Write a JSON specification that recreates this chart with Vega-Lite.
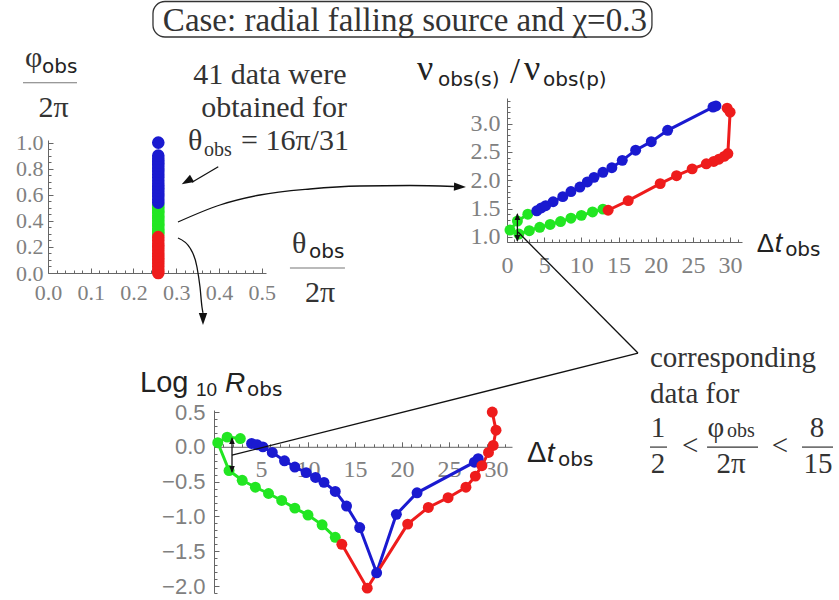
{
  "$schema": "https://vega.github.io/schema/vega-lite/v6.json",
  "width": 839,
  "height": 600,
  "autosize": {"type": "none"},
  "padding": 0,
  "background": "white",
  "config": {
    "view": {"stroke": null},
    "axis": {"grid": false, "domainColor": "#666666", "tickColor": "#666666", "labelColor": "#808080", "labelOverlap": false}
  },
  "datasets": {
    "pts": [
      {"grp": "green", "phi": 0.30, "theta": 0.258, "dt": 12.9, "nu": 1.49, "logR": -1.30},
      {"grp": "green", "phi": 0.32, "theta": 0.258, "dt": 11.5, "nu": 1.44, "logR": -1.12},
      {"grp": "green", "phi": 0.34, "theta": 0.258, "dt": 10.0, "nu": 1.38, "logR": -0.98},
      {"grp": "green", "phi": 0.36, "theta": 0.258, "dt": 8.6, "nu": 1.33, "logR": -0.88},
      {"grp": "green", "phi": 0.38, "theta": 0.258, "dt": 7.2, "nu": 1.27, "logR": -0.77},
      {"grp": "green", "phi": 0.40, "theta": 0.258, "dt": 5.8, "nu": 1.22, "logR": -0.67},
      {"grp": "green", "phi": 0.42, "theta": 0.258, "dt": 4.4, "nu": 1.17, "logR": -0.58},
      {"grp": "green", "phi": 0.44, "theta": 0.258, "dt": 3.0, "nu": 1.11, "logR": -0.48},
      {"grp": "green", "phi": 0.46, "theta": 0.258, "dt": 1.6, "nu": 1.05, "logR": -0.34},
      {"grp": "green", "phi": 0.48, "theta": 0.258, "dt": 0.4, "nu": 1.12, "logR": 0.06},
      {"grp": "green", "phi": 0.50, "theta": 0.258, "dt": 1.4, "nu": 1.28, "logR": 0.14},
      {"grp": "green", "phi": 0.52, "theta": 0.258, "dt": 2.8, "nu": 1.40, "logR": 0.12},
      {"grp": "blue", "phi": 0.540, "theta": 0.258, "dt": 4.0, "nu": 1.46, "logR": 0.05},
      {"grp": "blue", "phi": 0.564, "theta": 0.258, "dt": 4.6, "nu": 1.51, "logR": 0.03},
      {"grp": "blue", "phi": 0.588, "theta": 0.258, "dt": 5.2, "nu": 1.55, "logR": 0.0},
      {"grp": "blue", "phi": 0.612, "theta": 0.258, "dt": 6.2, "nu": 1.62, "logR": -0.08},
      {"grp": "blue", "phi": 0.636, "theta": 0.258, "dt": 7.5, "nu": 1.71, "logR": -0.20},
      {"grp": "blue", "phi": 0.660, "theta": 0.258, "dt": 8.6, "nu": 1.80, "logR": -0.29},
      {"grp": "blue", "phi": 0.684, "theta": 0.258, "dt": 9.8, "nu": 1.88, "logR": -0.37},
      {"grp": "blue", "phi": 0.708, "theta": 0.258, "dt": 10.8, "nu": 1.97, "logR": -0.44},
      {"grp": "blue", "phi": 0.732, "theta": 0.258, "dt": 11.7, "nu": 2.05, "logR": -0.51},
      {"grp": "blue", "phi": 0.756, "theta": 0.258, "dt": 12.9, "nu": 2.14, "logR": -0.64},
      {"grp": "blue", "phi": 0.780, "theta": 0.258, "dt": 14.1, "nu": 2.22, "logR": -0.85},
      {"grp": "blue", "phi": 0.804, "theta": 0.258, "dt": 15.5, "nu": 2.35, "logR": -1.16},
      {"grp": "blue", "phi": 0.828, "theta": 0.258, "dt": 17.3, "nu": 2.53, "logR": -1.81},
      {"grp": "blue", "phi": 0.852, "theta": 0.258, "dt": 19.4, "nu": 2.68, "logR": -0.97},
      {"grp": "blue", "phi": 0.876, "theta": 0.258, "dt": 21.6, "nu": 2.88, "logR": -0.66},
      {"grp": "blue", "phi": 0.900, "theta": 0.258, "dt": 27.7, "nu": 3.29, "logR": -0.22},
      {"grp": "blue", "phi": 1.000, "theta": 0.258, "dt": 28.1, "nu": 3.31, "logR": -0.17},
      {"grp": "red", "phi": 0.000, "theta": 0.258, "dt": 29.6, "nu": 3.27, "logR": 0.50},
      {"grp": "red", "phi": 0.025, "theta": 0.258, "dt": 30.0, "nu": 3.20, "logR": 0.24},
      {"grp": "red", "phi": 0.050, "theta": 0.258, "dt": 29.7, "nu": 2.47, "logR": 0.02},
      {"grp": "red", "phi": 0.075, "theta": 0.258, "dt": 29.2, "nu": 2.42, "logR": -0.08},
      {"grp": "red", "phi": 0.100, "theta": 0.258, "dt": 28.5, "nu": 2.37, "logR": -0.27},
      {"grp": "red", "phi": 0.125, "theta": 0.258, "dt": 27.8, "nu": 2.33, "logR": -0.42},
      {"grp": "red", "phi": 0.150, "theta": 0.258, "dt": 26.8, "nu": 2.29, "logR": -0.58},
      {"grp": "red", "phi": 0.175, "theta": 0.258, "dt": 24.9, "nu": 2.20, "logR": -0.73},
      {"grp": "red", "phi": 0.200, "theta": 0.258, "dt": 22.8, "nu": 2.08, "logR": -0.87},
      {"grp": "red", "phi": 0.225, "theta": 0.258, "dt": 20.6, "nu": 1.94, "logR": -1.11},
      {"grp": "red", "phi": 0.250, "theta": 0.258, "dt": 16.3, "nu": 1.64, "logR": -2.03},
      {"grp": "red", "phi": 0.275, "theta": 0.258, "dt": 13.6, "nu": 1.47, "logR": -1.40}
    ]
  },
  "resolve": {"scale": {"x": "independent", "y": "independent"}, "axis": {"x": "independent", "y": "independent"}},
  "layer": [
    {
      "resolve": {"scale": {"x": "independent", "y": "independent"}, "axis": {"x": "independent", "y": "independent"}},
      "layer": [
        {
          "layer": [
            {
              "data": {"name": "pts"},
              "mark": {"type": "circle", "size": 160, "opacity": 1},
              "encoding": {
                "x": {"field": "theta", "type": "quantitative", "scale": {"domain": [0, 0.51], "range": [48, 266], "nice": false, "zero": false},
                  "axis": {"title": null, "orient": "bottom", "offset": -327, "values": [0, 0.1, 0.2, 0.3, 0.4, 0.5], "format": ".1f", "tickSize": -5,
                    "labelOverlap": false, "labelFlush": false, "labelBound": false,
                    "labelPadding": 14, "labelFont": "Liberation Sans Narrow", "labelFontSize": 22}},
                "y": {"field": "phi", "type": "quantitative", "scale": {"domain": [0, 1.02], "range": [273, 140], "nice": false, "zero": false},
                  "axis": {"title": null, "orient": "left", "offset": -48, "values": [0, 0.2, 0.4, 0.6, 0.8, 1.0], "format": ".1f", "tickSize": -5,
                    "labelOverlap": false, "labelFlush": false, "labelBound": false,
                    "labelPadding": 10, "labelFont": "Liberation Sans Narrow", "labelFontSize": 22}},
                "color": {"field": "grp", "type": "nominal", "scale": {"domain": ["red", "green", "blue"], "range": ["#ee1c1c", "#22e622", "#1a1ad0"]}, "legend": null}
              }
            },
            {
              "data": {"values": [{"x": 0.835, "y": 1.856, "t": "Case: radial falling source and χ=0.3"}]},
              "mark": {"type": "text", "font": "Liberation Serif", "fontSize": 33, "align": "center", "baseline": "alphabetic", "color": "#333333"},
              "encoding": {"x": {"field": "x", "type": "quantitative"}, "y": {"field": "y", "type": "quantitative"}, "text": {"field": "t"}}
            },
            {
              "data": {"values": [{"x": 0.2456, "x2": 1.4129, "y": 2.082, "y2": 1.81}]},
              "mark": {"type": "rect", "filled": false, "stroke": "#333333", "strokeWidth": 1.3, "cornerRadius": 12},
              "encoding": {"x": {"field": "x", "type": "quantitative"}, "x2": {"field": "x2"}, "y": {"field": "y", "type": "quantitative"}, "y2": {"field": "y2"}}
            },
            {
              "data": {"values": [
                {"x": 0.0129, "y": 1.196, "t": "2π"},
                {"x": 0.519, "y": 1.449, "t": "41 data were"},
                {"x": 0.529, "y": 1.196, "t": "obtained for"},
                {"x": 0.6363, "y": -0.2224, "t": "2π"}
              ]},
              "mark": {"type": "text", "font": "Liberation Serif", "fontSize": 30, "align": "center", "baseline": "alphabetic", "color": "#333333"},
              "encoding": {"x": {"field": "x", "type": "quantitative"}, "y": {"field": "y", "type": "quantitative"}, "text": {"field": "t"}}
            },
            {
              "data": {"values": [
                {"x": 0.3275, "y": 0.943, "t": "θ"},
                {"x": 0.4515, "y": 0.943, "t": "= 16π/31"},
                {"x": 0.5708, "y": 0.1534, "t": "θ"},
                {"x": -0.0538, "y": 1.58, "t": "φ"}
              ]},
              "mark": {"type": "text", "font": "Liberation Serif", "fontSize": 30, "align": "left", "baseline": "alphabetic", "color": "#333333"},
              "encoding": {"x": {"field": "x", "type": "quantitative"}, "y": {"field": "y", "type": "quantitative"}, "text": {"field": "t"}}
            },
            {
              "data": {"values": [{"x": 0.365, "y": 0.897, "t": "obs"}]},
              "mark": {"type": "text", "font": "Liberation Serif", "fontSize": 20, "align": "left", "baseline": "alphabetic", "color": "#333333"},
              "encoding": {"x": {"field": "x", "type": "quantitative"}, "y": {"field": "y", "type": "quantitative"}, "text": {"field": "t"}}
            },
            {
              "data": {"values": [{"x": -0.014, "y": 1.534, "t": "obs"}, {"x": 0.6105, "y": 0.115, "t": "obs"}]},
              "mark": {"type": "text", "font": "DejaVu Sans", "fontSize": 20, "align": "left", "baseline": "alphabetic", "color": "#222222"},
              "encoding": {"x": {"field": "x", "type": "quantitative"}, "y": {"field": "y", "type": "quantitative"}, "text": {"field": "t"}}
            },
            {
              "data": {"values": [{"x": -0.0585, "x2": 0.0678, "y": 1.459}, {"x": 0.566, "x2": 0.6947, "y": 0.0383}]},
              "mark": {"type": "rule", "color": "#777777", "strokeWidth": 1.2},
              "encoding": {"x": {"field": "x", "type": "quantitative"}, "x2": {"field": "x2"}, "y": {"field": "y", "type": "quantitative"}}
            },
            {
              "data": {"values": [{"x": 0.3983, "y": 0.8152, "x2": 0.3368, "y2": 0.6963}]},
              "mark": {"type": "rule", "color": "#111111", "strokeWidth": 1.3},
              "encoding": {"x": {"field": "x", "type": "quantitative"}, "x2": {"field": "x2"}, "y": {"field": "y", "type": "quantitative"}, "y2": {"field": "y2"}}
            },
            {
              "data": {"values": [
                {"id": "c2", "o": 0, "x": 0.3041, "y": 0.3911},
                {"id": "c2", "o": 1, "x": 0.4023, "y": 0.5215},
                {"id": "c2", "o": 2, "x": 0.4959, "y": 0.5982},
                {"id": "c2", "o": 3, "x": 0.6129, "y": 0.6442},
                {"id": "c2", "o": 4, "x": 0.7298, "y": 0.6672},
                {"id": "c2", "o": 5, "x": 0.8468, "y": 0.6710},
                {"id": "c2", "o": 6, "x": 0.9497, "y": 0.6633},
                {"id": "c3", "o": 0, "x": 0.3041, "y": 0.2684},
                {"id": "c3", "o": 1, "x": 0.3322, "y": 0.1917},
                {"id": "c3", "o": 2, "x": 0.3485, "y": 0.0460},
                {"id": "c3", "o": 3, "x": 0.3556, "y": -0.1074},
                {"id": "c3", "o": 4, "x": 0.3602, "y": -0.2607},
                {"id": "c3", "o": 5, "x": 0.3626, "y": -0.3067}
              ]},
              "mark": {"type": "line", "color": "#111111", "strokeWidth": 1.3, "interpolate": "monotone"},
              "encoding": {"x": {"field": "x", "type": "quantitative"}, "y": {"field": "y", "type": "quantitative"}, "detail": {"field": "id"}, "order": {"field": "o"}}
            },
            {
              "data": {"values": [{"x": 0.3128, "y": 0.6803}]},
              "mark": {"type": "point", "shape": "M0,0L0.35,1L-0.35,1Z", "filled": true, "opacity": 1, "color": "#111111", "size": 576, "angle": 240},
              "encoding": {"x": {"field": "x", "type": "quantitative"}, "y": {"field": "y", "type": "quantitative"}}
            },
            {
              "data": {"values": [{"x": 0.9778, "y": 0.6595}]},
              "mark": {"type": "point", "shape": "M0,0L0.35,1L-0.35,1Z", "filled": true, "opacity": 1, "color": "#111111", "size": 576, "angle": 92},
              "encoding": {"x": {"field": "x", "type": "quantitative"}, "y": {"field": "y", "type": "quantitative"}}
            },
            {
              "data": {"values": [{"x": 0.3626, "y": -0.3988}]},
              "mark": {"type": "point", "shape": "M0,0L0.35,1L-0.35,1Z", "filled": true, "opacity": 1, "color": "#111111", "size": 576, "angle": 180},
              "encoding": {"x": {"field": "x", "type": "quantitative"}, "y": {"field": "y", "type": "quantitative"}}
            }
          ]
        },
        {
          "data": {"name": "pts"},
          "mark": {"type": "point", "opacity": 0},
          "encoding": {
            "x": {"field": "theta", "type": "quantitative", "scale": {"domain": [0, 0.51], "range": [48, 266], "nice": false, "zero": false},
              "axis": {"title": null, "orient": "bottom", "offset": -327, "labels": false, "domain": false, "tickSize": -3,
                "values": [0.02,0.04,0.06,0.08,0.12,0.14,0.16,0.18,0.22,0.24,0.26,0.28,0.32,0.34,0.36,0.38,0.42,0.44,0.46,0.48]}},
            "y": {"field": "phi", "type": "quantitative", "scale": {"domain": [0, 1.02], "range": [273, 140], "nice": false, "zero": false},
              "axis": {"title": null, "orient": "left", "offset": -48, "labels": false, "domain": false, "tickSize": -3,
                "values": [0.05,0.1,0.15,0.25,0.3,0.35,0.45,0.5,0.55,0.65,0.7,0.75,0.85,0.9,0.95]}}
          }
        }
      ]
    },
    {
      "resolve": {"scale": {"x": "independent", "y": "independent"}, "axis": {"x": "independent", "y": "independent"}},
      "layer": [
        {
          "layer": [
            {
              "data": {"name": "pts"},
              "mark": {"type": "line", "strokeWidth": 3},
              "encoding": {
                "x": {"field": "dt", "type": "quantitative", "scale": {"domain": [0, 31.6], "range": [507, 742], "nice": false, "zero": false},
                  "axis": {"title": null, "orient": "bottom", "offset": -358, "values": [0, 5, 10, 15, 20, 25, 30], "format": "d", "tickSize": -5,
                    "labelOverlap": false, "labelFlush": false, "labelBound": false,
                    "labelPadding": 16, "labelFont": "Liberation Sans Narrow", "labelFontSize": 24}},
                "y": {"field": "nu", "type": "quantitative", "scale": {"domain": [0.91, 3.45], "range": [242, 98], "nice": false, "zero": false},
                  "axis": {"title": null, "orient": "left", "offset": -507, "values": [1.0, 1.5, 2.0, 2.5, 3.0], "format": ".1f", "tickSize": -5,
                    "labelOverlap": false, "labelFlush": false, "labelBound": false,
                    "labelPadding": 12, "labelFont": "Liberation Sans Narrow", "labelFontSize": 24}},
                "color": {"field": "grp", "type": "nominal", "legend": null},
                "order": {"field": "phi", "type": "quantitative"}
              }
            },
            {
              "data": {"name": "pts"},
              "mark": {"type": "circle", "size": 120, "opacity": 1},
              "encoding": {
                "x": {"field": "dt", "type": "quantitative"},
                "y": {"field": "nu", "type": "quantitative"},
                "color": {"field": "grp", "type": "nominal", "legend": null}
              }
            },
            {
              "data": {"values": [{"x": -12.1, "y": 3.767, "t": "ν"}, {"x": 0.4, "y": 3.714, "t": "/"}, {"x": 2.3, "y": 3.767, "t": "ν"}]},
              "mark": {"type": "text", "font": "Liberation Serif", "fontSize": 36, "align": "left", "baseline": "alphabetic", "color": "#222222"},
              "encoding": {"x": {"field": "x", "type": "quantitative"}, "y": {"field": "y", "type": "quantitative"}, "text": {"field": "t"}}
            },
            {
              "data": {"values": [{"x": -9.27, "y": 3.661, "t": "obs(s)"}, {"x": 4.84, "y": 3.661, "t": "obs(p)"}]},
              "mark": {"type": "text", "font": "DejaVu Sans", "fontSize": 20, "align": "left", "baseline": "alphabetic", "color": "#222222"},
              "encoding": {"x": {"field": "x", "type": "quantitative"}, "y": {"field": "y", "type": "quantitative"}, "text": {"field": "t"}}
            },
            {
              "data": {"values": [{"x": 33.6, "y": 0.734, "t": "Δ"}]},
              "mark": {"type": "text", "font": "Liberation Sans", "fontSize": 26, "align": "left", "baseline": "alphabetic", "color": "#222222"},
              "encoding": {"x": {"field": "x", "type": "quantitative"}, "y": {"field": "y", "type": "quantitative"}, "text": {"field": "t"}}
            },
            {
              "data": {"values": [{"x": 36.0, "y": 0.734, "t": "t"}]},
              "mark": {"type": "text", "font": "Liberation Sans", "fontStyle": "italic", "fontSize": 27, "align": "left", "baseline": "alphabetic", "color": "#222222"},
              "encoding": {"x": {"field": "x", "type": "quantitative"}, "y": {"field": "y", "type": "quantitative"}, "text": {"field": "t"}}
            },
            {
              "data": {"values": [{"x": 37.4, "y": 0.663, "t": "obs"}]},
              "mark": {"type": "text", "font": "DejaVu Sans", "fontSize": 20, "align": "left", "baseline": "alphabetic", "color": "#222222"},
              "encoding": {"x": {"field": "x", "type": "quantitative"}, "y": {"field": "y", "type": "quantitative"}, "text": {"field": "t"}}
            },
            {
              "data": {"values": [{"x": 1.398, "y": 1.40, "y2": 0.93}]},
              "mark": {"type": "rule", "color": "#111111", "strokeWidth": 1.3},
              "encoding": {"x": {"field": "x", "type": "quantitative"}, "y": {"field": "y", "type": "quantitative"}, "y2": {"field": "y2"}}
            },
            {
              "data": {"values": [{"x": 1.398, "y": 1.421}]},
              "mark": {"type": "point", "shape": "M0,0L0.4,1L-0.4,1Z", "filled": true, "opacity": 1, "color": "#111111", "size": 196, "angle": 0},
              "encoding": {"x": {"field": "x", "type": "quantitative"}, "y": {"field": "y", "type": "quantitative"}}
            },
            {
              "data": {"values": [{"x": 1.398, "y": 0.91}]},
              "mark": {"type": "point", "shape": "M0,0L0.4,1L-0.4,1Z", "filled": true, "opacity": 1, "color": "#111111", "size": 196, "angle": 180},
              "encoding": {"x": {"field": "x", "type": "quantitative"}, "y": {"field": "y", "type": "quantitative"}}
            },
            {
              "data": {"values": [{"x": 1.478, "y": 1.086, "x2": 17.608, "y2": -1.048}]},
              "mark": {"type": "rule", "color": "#111111", "strokeWidth": 1.3},
              "encoding": {"x": {"field": "x", "type": "quantitative"}, "x2": {"field": "x2"}, "y": {"field": "y", "type": "quantitative"}, "y2": {"field": "y2"}}
            }
          ]
        },
        {
          "data": {"name": "pts"},
          "mark": {"type": "point", "opacity": 0},
          "encoding": {
            "x": {"field": "dt", "type": "quantitative", "scale": {"domain": [0, 31.6], "range": [507, 742], "nice": false, "zero": false},
              "axis": {"title": null, "orient": "bottom", "offset": -358, "labels": false, "domain": false, "tickSize": -3,
                "values": [1,2,3,4,6,7,8,9,11,12,13,14,16,17,18,19,21,22,23,24,26,27,28,29,31]}},
            "y": {"field": "nu", "type": "quantitative", "scale": {"domain": [0.91, 3.45], "range": [242, 98], "nice": false, "zero": false},
              "axis": {"title": null, "orient": "left", "offset": -507, "labels": false, "domain": false, "tickSize": -3,
                "values": [1.1,1.2,1.3,1.4,1.6,1.7,1.8,1.9,2.1,2.2,2.3,2.4,2.6,2.7,2.8,2.9,3.1,3.2,3.3,3.4]}}
          }
        }
      ]
    },
    {
      "resolve": {"scale": {"x": "independent", "y": "independent"}, "axis": {"x": "independent", "y": "independent"}},
      "layer": [
        {
          "layer": [
            {
              "data": {"name": "pts"},
              "mark": {"type": "line", "strokeWidth": 3},
              "encoding": {
                "x": {"field": "dt", "type": "quantitative", "scale": {"domain": [0, 31.7], "range": [214, 512], "nice": false, "zero": false},
                  "axis": {"title": null, "orient": "bottom", "offset": -153.2, "values": [5, 10, 15, 20, 25, 30], "format": "d", "tickSize": -5,
                    "labelOverlap": false, "labelFlush": false, "labelBound": false,
                    "labelPadding": 16, "labelFont": "Liberation Sans Narrow", "labelFontSize": 24}},
                "y": {"field": "logR", "type": "quantitative", "scale": {"domain": [-2.1, 0.53], "range": [593, 410], "nice": false, "zero": false},
                  "axis": {"title": null, "orient": "left", "offset": -214, "values": [-2.0, -1.5, -1.0, -0.5, 0, 0.5], "format": ".1f", "tickSize": -5,
                    "labelOverlap": false, "labelFlush": false, "labelBound": false,
                    "labelPadding": 14, "labelFont": "Liberation Sans", "labelFontSize": 22}},
                "color": {"field": "grp", "type": "nominal", "legend": null},
                "order": {"field": "phi", "type": "quantitative"}
              }
            },
            {
              "data": {"name": "pts"},
              "mark": {"type": "circle", "size": 120, "opacity": 1},
              "encoding": {
                "x": {"field": "dt", "type": "quantitative"},
                "y": {"field": "logR", "type": "quantitative"},
                "color": {"field": "grp", "type": "nominal", "legend": null}
              }
            },
            {
              "data": {"values": [{"x": -7.872, "y": 0.787, "t": "Log"}, {"x": 33.3, "y": -0.218, "t": "Δ"}]},
              "mark": {"type": "text", "font": "Liberation Sans", "fontSize": 29, "align": "left", "baseline": "alphabetic", "color": "#222222"},
              "encoding": {"x": {"field": "x", "type": "quantitative"}, "y": {"field": "y", "type": "quantitative"}, "text": {"field": "t"}}
            },
            {
              "data": {"values": [{"x": 1.17, "y": 0.787, "t": "R"}, {"x": 35.4, "y": -0.218, "t": "t"}]},
              "mark": {"type": "text", "font": "Liberation Sans", "fontStyle": "italic", "fontSize": 28, "align": "left", "baseline": "alphabetic", "color": "#222222"},
              "encoding": {"x": {"field": "x", "type": "quantitative"}, "y": {"field": "y", "type": "quantitative"}, "text": {"field": "t"}}
            },
            {
              "data": {"values": [{"x": -1.915, "y": 0.73, "t": "10"}]},
              "mark": {"type": "text", "font": "Liberation Sans", "fontSize": 19, "align": "left", "baseline": "alphabetic", "color": "#222222"},
              "encoding": {"x": {"field": "x", "type": "quantitative"}, "y": {"field": "y", "type": "quantitative"}, "text": {"field": "t"}}
            },
            {
              "data": {"values": [{"x": 3.511, "y": 0.73, "t": "obs"}, {"x": 36.6, "y": -0.276, "t": "obs"}]},
              "mark": {"type": "text", "font": "DejaVu Sans", "fontSize": 20, "align": "left", "baseline": "alphabetic", "color": "#222222"},
              "encoding": {"x": {"field": "x", "type": "quantitative"}, "y": {"field": "y", "type": "quantitative"}, "text": {"field": "t"}}
            },
            {
              "data": {"values": [{"x": 1.915, "y": 0.12, "y2": -0.355}]},
              "mark": {"type": "rule", "color": "#111111", "strokeWidth": 1.3},
              "encoding": {"x": {"field": "x", "type": "quantitative"}, "y": {"field": "y", "type": "quantitative"}, "y2": {"field": "y2"}}
            },
            {
              "data": {"values": [{"x": 1.915, "y": 0.141}]},
              "mark": {"type": "point", "shape": "M0,0L0.4,1L-0.4,1Z", "filled": true, "opacity": 1, "color": "#111111", "size": 196, "angle": 0},
              "encoding": {"x": {"field": "x", "type": "quantitative"}, "y": {"field": "y", "type": "quantitative"}}
            },
            {
              "data": {"values": [{"x": 1.915, "y": -0.376}]},
              "mark": {"type": "point", "shape": "M0,0L0.4,1L-0.4,1Z", "filled": true, "opacity": 1, "color": "#111111", "size": 196, "angle": 180},
              "encoding": {"x": {"field": "x", "type": "quantitative"}, "y": {"field": "y", "type": "quantitative"}}
            },
            {
              "data": {"values": [{"x": 1.915, "y": -0.118, "x2": 45.106, "y2": 1.348}]},
              "mark": {"type": "rule", "color": "#111111", "strokeWidth": 1.3},
              "encoding": {"x": {"field": "x", "type": "quantitative"}, "x2": {"field": "x2"}, "y": {"field": "y", "type": "quantitative"}, "y2": {"field": "y2"}}
            },
            {
              "data": {"values": [{"x": 46.38, "y": 1.147, "t": "corresponding"}, {"x": 46.38, "y": 0.629, "t": "data for"}]},
              "mark": {"type": "text", "font": "Liberation Serif", "fontSize": 29, "align": "left", "baseline": "alphabetic", "color": "#333333"},
              "encoding": {"x": {"field": "x", "type": "quantitative"}, "y": {"field": "y", "type": "quantitative"}, "text": {"field": "t"}}
            },
            {
              "data": {"values": [
                {"x": 47.23, "y": 0.141, "t": "1"},
                {"x": 47.23, "y": -0.376, "t": "2"},
                {"x": 50.64, "y": -0.118, "t": "<"},
                {"x": 53.4, "y": 0.141, "t": "φ"},
                {"x": 55.0, "y": -0.376, "t": "2π"},
                {"x": 60.21, "y": -0.118, "t": "<"},
                {"x": 64.15, "y": 0.141, "t": "8"},
                {"x": 64.26, "y": -0.376, "t": "15"}
              ]},
              "mark": {"type": "text", "font": "Liberation Serif", "fontSize": 29, "align": "center", "baseline": "alphabetic", "color": "#333333"},
              "encoding": {"x": {"field": "x", "type": "quantitative"}, "y": {"field": "y", "type": "quantitative"}, "text": {"field": "t"}}
            },
            {
              "data": {"values": [{"x": 54.57, "y": 0.141, "t": "obs"}]},
              "mark": {"type": "text", "font": "Liberation Serif", "fontSize": 20, "align": "left", "baseline": "alphabetic", "color": "#333333"},
              "encoding": {"x": {"field": "x", "type": "quantitative"}, "y": {"field": "y", "type": "quantitative"}, "text": {"field": "t"}}
            },
            {
              "data": {"values": [{"x": 46.38, "x2": 48.19, "y": -0.003}, {"x": 52.45, "x2": 57.87, "y": -0.003}, {"x": 62.55, "x2": 65.85, "y": -0.003}]},
              "mark": {"type": "rule", "color": "#333333", "strokeWidth": 1.2},
              "encoding": {"x": {"field": "x", "type": "quantitative"}, "x2": {"field": "x2"}, "y": {"field": "y", "type": "quantitative"}}
            }
          ]
        },
        {
          "data": {"name": "pts"},
          "mark": {"type": "point", "opacity": 0},
          "encoding": {
            "x": {"field": "dt", "type": "quantitative", "scale": {"domain": [0, 31.7], "range": [214, 512], "nice": false, "zero": false},
              "axis": {"title": null, "orient": "bottom", "offset": -153.2, "labels": false, "domain": false, "tickSize": -3,
                "values": [1,2,3,4,6,7,8,9,11,12,13,14,16,17,18,19,21,22,23,24,26,27,28,29,31]}},
            "y": {"field": "logR", "type": "quantitative", "scale": {"domain": [-2.1, 0.53], "range": [593, 410], "nice": false, "zero": false},
              "axis": {"title": null, "orient": "left", "offset": -214, "labels": false, "domain": false, "tickSize": -3,
                "values": [-2.1,-1.9,-1.8,-1.7,-1.6,-1.4,-1.3,-1.2,-1.1,-0.9,-0.8,-0.7,-0.6,-0.4,-0.3,-0.2,-0.1,0.1,0.2,0.3,0.4]}}
          }
        }
      ]
    }
  ]
}
